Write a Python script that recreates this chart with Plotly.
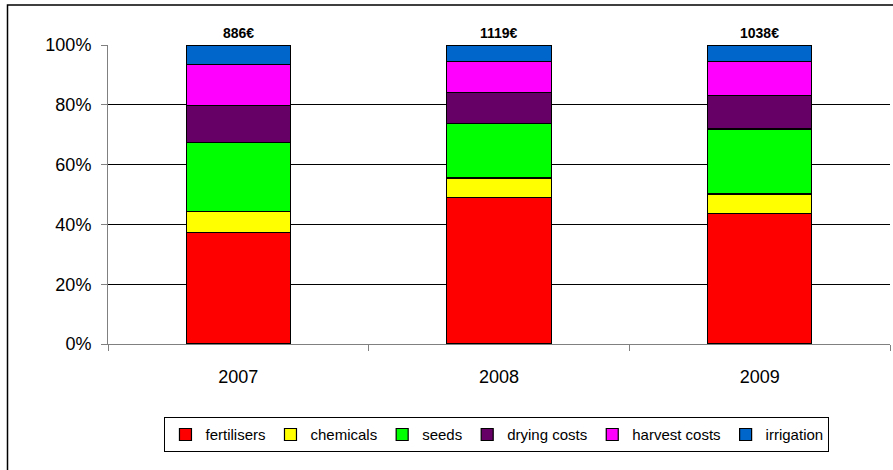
import plotly.graph_objects as go

years = ["2007", "2008", "2009"]
totals = ["886€", "1119€", "1038€"]
y_ticks = [0, 20, 40, 60, 80, 100]

fertilisers = [37.3, 48.9, 43.7]
chemicals = [7.1, 6.6, 6.5]
seeds = [23.0, 18.3, 21.7]
drying_costs = [12.5, 10.4, 11.1]
harvest_costs = [13.5, 10.4, 11.5]
irrigation = [6.6, 5.4, 5.5]

series = [
    ("fertilisers", fertilisers, "#FF0000"),
    ("chemicals", chemicals, "#FFFF00"),
    ("seeds", seeds, "#00FF00"),
    ("drying costs", drying_costs, "#660066"),
    ("harvest costs", harvest_costs, "#FF00FF"),
    ("irrigation", irrigation, "#0066CC"),
]

FONT = "Liberation Sans"
xpos = list(range(len(years)))
bounds = [i - 0.5 for i in xpos] + [xpos[-1] + 0.5]

fig = go.Figure()
for name, vals, col in series:
    fig.add_trace(go.Bar(
        x=xpos, y=vals, name=name, width=0.4,
        marker=dict(color=col, line=dict(color="#000000", width=1.2)),
    ))

for i, t in zip(xpos, totals):
    fig.add_annotation(x=i, y=100, xref="x", yref="y", text="<b>%s</b>" % t, showarrow=False,
                       yanchor="bottom", yshift=2,
                       font=dict(family=FONT, size=14, color="#000"))

# outer chart frame (partially outside the picture)
fig.add_shape(type="rect", xref="paper", yref="paper",
              x0=(7.5 - 108) / 782, x1=(905 - 108) / 782,
              y0=(344 - 490) / 299, y1=(344 - 5) / 299,
              line=dict(color="#000000", width=1.5))

fig.update_layout(
    width=893, height=470,
    barmode="stack",
    plot_bgcolor="#FFFFFF", paper_bgcolor="#FFFFFF",
    margin=dict(l=108, r=3, t=45, b=126),
    font=dict(family=FONT, size=18, color="#000"),
    showlegend=True,
    legend=dict(orientation="h", x=0.4974, xanchor="center", y=-0.245, yanchor="top",
                bordercolor="#000", borderwidth=1, bgcolor="#FFF", traceorder="normal",
                font=dict(family=FONT, size=15, color="#000")),
    xaxis=dict(range=[-0.5, 2.5], tickvals=xpos, ticktext=years,
               showline=True, linecolor="#808080", linewidth=1,
               ticks="outside", ticklen=16, tickcolor="rgba(0,0,0,0)",
               showgrid=False, zeroline=False,
               minor=dict(tickvals=bounds, ticks="outside", ticklen=6,
                          tickcolor="#808080", showgrid=False),
               tickfont=dict(family=FONT, size=18, color="#000")),
    yaxis=dict(range=[0, 100], tickvals=y_ticks, ticktext=["%d%%" % v for v in y_ticks],
               showline=True, linecolor="#808080", linewidth=1,
               ticks="outside", ticklen=12, tickcolor="rgba(0,0,0,0)",
               minor=dict(tickvals=y_ticks, ticks="outside", ticklen=6,
                          tickcolor="#808080", showgrid=False),
               showgrid=True, gridcolor="#000000", gridwidth=1, zeroline=False,
               tickfont=dict(family=FONT, size=18, color="#000")),
)

fig.write_html("out.html", config={"displayModeBar": False},
               post_script="document.body.style.margin='0';")
